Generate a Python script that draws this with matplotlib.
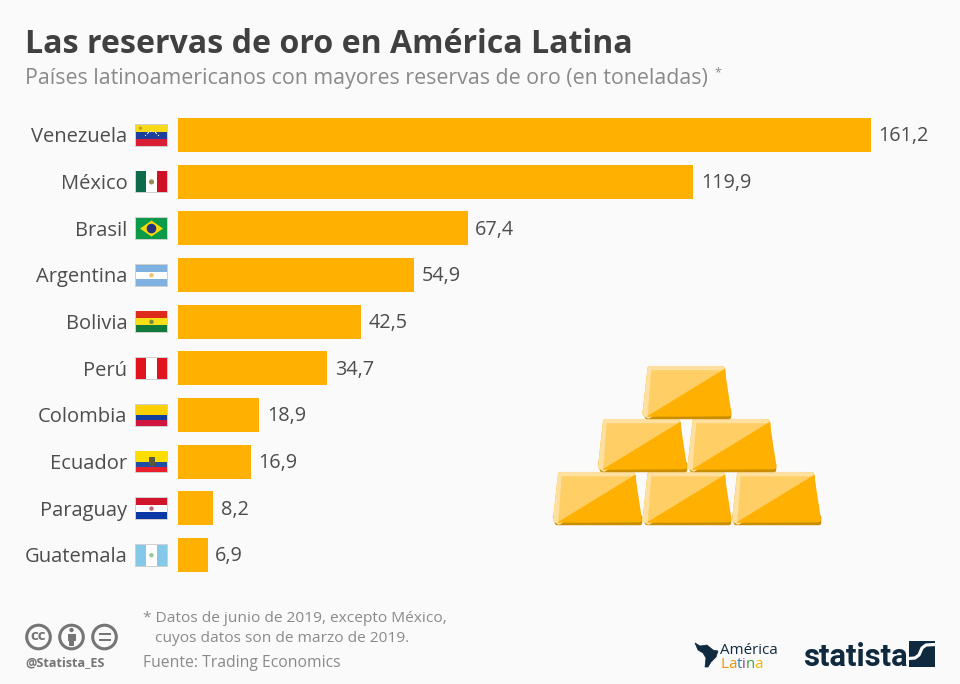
import numpy as np
import matplotlib
matplotlib.use("Agg")
import matplotlib.pyplot as plt
from matplotlib.patches import Circle, Polygon, Rectangle

countries = ["Venezuela", "México", "Brasil", "Argentina", "Bolivia",
             "Perú", "Colombia", "Ecuador", "Paraguay", "Guatemala"]
reserves = [161.2, 119.9, 67.4, 54.9, 42.5, 34.7, 18.9, 16.9, 8.2, 6.9]

BG = "#FAFAFA"
GOLD = "#FFB000"
TEXT = "#4D4D4D"
GREY = "#8A8A8A"
NAVY = "#0F2A3F"

plt.rcParams["font.family"] = ["Open Sans", "DejaVu Sans"]

fig = plt.figure(figsize=(9.6, 6.84), dpi=100, facecolor=BG)

# chart, placed so that one slot is 46.67 px
ax = fig.add_axes([178 / 960, 1 - 578.3 / 684, 693 / 960, 466.7 / 684])
ax.set_facecolor("none")
ypos = np.arange(len(countries))
ax.barh(ypos, reserves, height=0.73, color=GOLD)
ax.set_xlim(0, 161.2)
ax.set_ylim(len(countries) - 0.5, -0.5)
ax.set_xticks([])
ax.set_yticks(ypos)
ax.set_yticklabels(countries, fontsize=14.5, color=TEXT)
ax.tick_params(axis="y", length=0, pad=36.5)
for s in ax.spines.values():
    s.set_visible(False)
for y, v in zip(ypos, reserves):
    ax.annotate(f"{v:.1f}".replace(".", ","), (v, y), xytext=(5.4, -1.0),
                textcoords="offset points", va="center", ha="left",
                fontsize=14.3, color=TEXT)

# overlay in pixel coordinates for everything that is not data
ov = fig.add_axes([0, 0, 1, 1], zorder=5)
ov.set_xlim(0, 960)
ov.set_ylim(684, 0)
ov.axis("off")
ov.patch.set_alpha(0)

ov.text(25, 44.5, "Las reservas de oro en América Latina", fontsize=23.1,
        fontweight="bold", color="#404040", va="center")
ov.text(25, 78.5, "Países latinoamericanos con mayores reservas de oro (en toneladas)",
        fontsize=15.4, color=GREY, va="center")
ov.text(714, 73, "*", fontsize=9, color=GREY, va="center")


def hstripes(y0, colors, fracs=None):
    fracs = fracs or [1 / len(colors)] * len(colors)
    top = y0
    for c, f in zip(colors, fracs):
        ov.add_patch(Rectangle((136, top), 31, 21 * f, color=c, lw=0))
        top += 21 * f


def vstripes(y0, colors):
    for i, c in enumerate(colors):
        ov.add_patch(Rectangle((136 + i * 31 / 3, y0), 31 / 3, 21, color=c, lw=0))


def flag(i):
    yc = 135.2 + i * 46.67
    y0 = yc - 10.5
    ov.add_patch(Rectangle((135.2, y0 - 0.6), 32.6, 22.4, color="#D0D0D0", lw=0))
    if i == 0:
        hstripes(y0, ["#F7D917", "#1C3F9E", "#D81F35"])
        ov.add_patch(Circle((140.5, y0 + 3.5), 1.6, color="#B89A3A", lw=0))
        t = np.linspace(np.pi * 1.15, np.pi * 1.85, 8)
        ov.scatter(151.5 + 7 * np.cos(t), y0 + 13.5 + 7 * np.sin(t), s=0.8, color="white", lw=0)
    elif i == 1:
        vstripes(y0, ["#0B6B4B", "#FFFFFF", "#CE1126"])
        ov.add_patch(Circle((151.5, y0 + 10.5), 2.6, color="#9C8A5A", lw=0))
    elif i == 2:
        hstripes(y0, ["#0A9A48"])
        ov.add_patch(Polygon([(140, y0 + 10.5), (151.5, y0 + 2.5), (163, y0 + 10.5), (151.5, y0 + 18.5)],
                             color="#F5D90A", lw=0))
        ov.add_patch(Circle((151.5, y0 + 10.5), 4.8, color="#25307F", lw=0))
    elif i == 3:
        hstripes(y0, ["#7FB2E0", "#FFFFFF", "#7FB2E0"])
        ov.add_patch(Circle((151.5, y0 + 10.5), 2.2, color="#F5BF75", lw=0))
    elif i == 4:
        hstripes(y0, ["#DE2A1B", "#F7DF17", "#0F7A3A"])
        ov.add_patch(Circle((151.5, y0 + 10.5), 2.2, color="#7A8A3A", lw=0))
    elif i == 5:
        vstripes(y0, ["#E0131F", "#FFFFFF", "#E0131F"])
    elif i == 6:
        hstripes(y0, ["#FFD000", "#123E9C", "#D0163E"], [0.5, 0.25, 0.25])
    elif i == 7:
        hstripes(y0, ["#FFDD00", "#1F4FA5", "#E9202B"], [0.5, 0.25, 0.25])
        ov.add_patch(Rectangle((148.5, y0 + 6), 6, 9, color="#5A5A3A", lw=0))
    elif i == 8:
        hstripes(y0, ["#D0152B", "#FFFFFF", "#0A38A5"])
        ov.add_patch(Circle((151.5, y0 + 10.5), 2.2, color="#B86A70", lw=0))
    else:
        vstripes(y0, ["#86C8E8", "#FFFFFF", "#86C8E8"])
        ov.add_patch(Circle((151.5, y0 + 10.5), 2.2, color="#9CC59A", lw=0))


for i in range(len(countries)):
    flag(i)


def ingot(x, y):
    # x, y is the lower left corner, 89 px wide and 53 px high
    w, h = 89, 53
    r = 2.2
    # dark foot
    ov.add_patch(Polygon([(x + r, y - 8), (x + w - r, y - 8), (x + w - r, y - r), (x + r + 2, y - r)],
                         fc="#C98F00", ec="#C98F00", lw=3.2, joinstyle="round"))
    # gold body
    ov.add_patch(Polygon([(x + r, y - 3 - r), (x + 5 + r, y - h + r), (x + w - 7 - r, y - h + r), (x + w - r, y - 3 - r)],
                         fc=GOLD, ec=GOLD, lw=3.2, joinstyle="round"))
    # pale rim on the left and top
    ov.add_patch(Polygon([(x + r, y - 3 - r), (x + 5 + r, y - h + r), (x + w - 7 - r, y - h + r), (x + 6, y - 2.5)],
                         fc="#FFE0A0", ec="#FFE0A0", lw=3.2, joinstyle="round"))
    # light face
    ov.add_patch(Polygon([(x + 5.5, y - 3), (x + 9, y - h + 4.5), (x + w - 7, y - h + 4.5), (x + 5, y - 2)],
                         fc="#FFCF66", ec="#FFCF66", lw=0.4))
    # diagonal gold wedge over the rim
    ov.add_patch(Polygon([(x + 5, y - 2.6), (x + w - 6.5, y - h + 3), (x + w - 4, y - 5), (x + w - 3, y - 3)],
                         fc=GOLD, ec=GOLD, lw=0.4))


for xb, yb in [(553, 525), (642.5, 525), (732, 525), (598, 472), (687.5, 472), (642.5, 419)]:
    ingot(xb, yb)

# footer
ov.text(143, 618, "* Datos de junio de 2019, excepto México,", fontsize=11.15, color=GREY, va="center")
ov.text(155, 638, "cuyos datos son de marzo de 2019.", fontsize=11.15, color=GREY, va="center")
ov.text(143, 663, "Fuente: Trading Economics", fontsize=11.3, color=GREY, va="center")
ov.text(25, 663, "@Statista_ES", fontsize=9.1, fontweight="bold", color="#757575", va="center")

for cx in (38.5, 71.5, 104.5):
    ov.add_patch(Circle((cx, 637), 11.8, fc="none", ec="#757575", lw=2.2))
ov.text(38.5, 636, "cc", fontsize=11, fontweight="bold", color="#757575", ha="center", va="center")
ov.add_patch(Circle((71.5, 630), 2.2, color="#757575", lw=0))
ov.add_patch(Rectangle((67.5, 633.5), 8, 7, color="#757575", lw=0))
ov.add_patch(Rectangle((69.3, 640), 4.4, 6, color="#757575", lw=0))
ov.add_patch(Rectangle((98.5, 632.5), 12, 2.6, color="#757575", lw=0))
ov.add_patch(Rectangle((98.5, 638.5), 12, 2.6, color="#757575", lw=0))

# América Latina logo
ov.add_patch(Polygon([(695, 643), (700, 646), (707, 645), (713, 650), (718, 651), (716, 657),
                      (711, 662), (708, 667), (705, 667), (706, 658), (703, 653), (698, 650)],
                     fc=NAVY, ec=NAVY, lw=0.5, joinstyle="round"))
ov.text(720, 650, "América", fontsize=10.9, color=NAVY, va="center")
latina_colors = ["#F39200", "#F39200", "#2E7FC1", "#8E3F98", "#3FA535", "#F7B500"]
latina_x = [720, 728, 736.5, 741.5, 745.5, 754.5]
for ch, c, lx in zip("Latina", latina_colors, latina_x):
    ov.text(lx, 664, ch, fontsize=10.9, color=c, va="center")

# statista logo
ov.text(803, 657, "statista", fontsize=22.3, fontweight="bold", color=NAVY, va="center",
        family=["Roboto", "DejaVu Sans"])
ov.add_patch(Rectangle((909, 641), 26, 26, color=NAVY, lw=0))
sx = [908.5, 915, 919, 922, 926, 935.5]
sy = [658.5, 658, 655, 648, 645, 644.5]
ov.plot(sx, sy, color=BG, lw=2.3, solid_capstyle="butt")

fig.savefig("out.png", dpi=100, facecolor=BG)
